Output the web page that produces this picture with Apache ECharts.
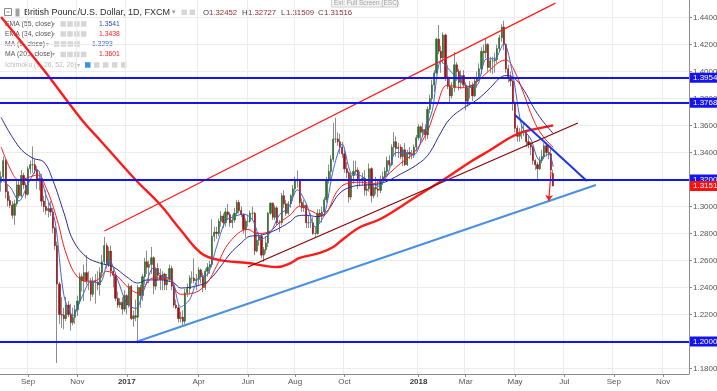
<!DOCTYPE html>
<html><head><meta charset="utf-8">
<script src="https://cdn.jsdelivr.net/npm/echarts@6/dist/echarts.min.js"></script>
<style>html,body{margin:0;padding:0;background:#fff;overflow:hidden}#c{width:717px;height:391px}</style>
</head><body><div id="c"></div>
<script>
const FONT = "'Liberation Sans', Arial, 'DejaVu Sans', sans-serif";
// time axis: trading days from start, grouped by two per category
const startDate = '2016-07-28';
const categoryCount = 307;
const tickDates = ['2016-09-01','2016-11-01','2017-01-01','2017-04-01','2017-06-01','2017-08-01','2017-10-01','2018-01-01','2018-03-01','2018-05-01','2018-07-01','2018-09-01','2018-11-01'];
const tickLabels = ['Sep','Nov','2017','Apr','Jun','Aug','Oct','2018','Mar','May','Jul','Sep','Nov'];
const yTicks = [1.18,1.20,1.22,1.24,1.26,1.28,1.30,1.32,1.34,1.36,1.38,1.40,1.42,1.44];
const Y_MIN = 1.1759, Y_MAX = 1.4530;

// OHLC in 1/10000 units
const opens = [
13180,13220,13340,13110,13045,13010,12935,13020,13160,13080,
13230,13160,13090,13280,13310,13310,13270,13200,13210,13040,
13000,12970,12985,12960,12840,12710,12425,12200,12195,12170,
12270,12200,12140,12180,12235,12300,12480,12450,12510,12450,
12450,12350,12450,12440,12420,12510,12590,12710,12570,12670,
12520,12490,12320,12270,12290,12240,12340,12270,12410,12170,
12190,12180,12400,12340,12480,12590,12550,12570,12620,12410,
12540,12490,12460,12500,12420,12460,12540,12410,12270,12250,
12170,12180,12150,12360,12390,12470,12470,12450,12460,12530,
12480,12400,12520,12550,12570,12780,12810,12800,12890,12930,
12880,12960,12940,12880,12900,12950,13030,12970,12940,12830,
12890,12890,12950,12950,12670,12750,12780,12640,12680,12730,
12950,13025,12920,12990,12880,12880,13080,13020,12950,13020,
13080,13130,13200,13190,13030,12990,13010,12880,12880,12880,
12800,12800,12950,12930,12960,13050,13200,13260,13350,13500,
13500,13480,13440,13390,13280,13250,13070,13230,13260,13270,
13200,13190,13210,13120,13130,13280,13080,13140,13130,13120,
13200,13220,13260,13340,13310,13440,13480,13430,13440,13370,
13420,13310,13400,13390,13380,13440,13510,13590,13550,13570,
13530,13720,13800,13900,13990,14240,14150,14100,14270,13960,
13890,13820,13880,14050,14000,13920,13970,13900,13780,13880,
13900,13820,13930,13950,14020,14150,14140,14200,14030,14080,
14080,14090,14170,14250,14330,14200,14020,13960,13930,13770,
13580,13520,13550,13560,13560,13480,13460,13440,13340,13310,
13280,13340,13370,13450,13400,13390,13245];
const highs = [
13260,13371,13350,13160,13080,13040,13050,13190,13200,13270,
13250,13180,13300,13340,13445,13350,13300,13260,13240,13080,
13120,13030,13040,12990,12850,12740,12440,12330,12250,12330,
12300,12280,12250,12270,12340,12510,12500,12570,12640,12520,
12470,12480,12500,12520,12550,12640,12775,12730,12700,12710,
12550,12510,12370,12320,12330,12380,12350,12430,12420,12230,
12310,12420,12420,12500,12620,12673,12600,12700,12630,12550,
12580,12540,12520,12510,12500,12570,12560,12420,12310,12280,
12220,12230,12390,12430,12490,12520,12615,12500,12550,12540,
12510,12540,12580,12600,12905,12850,12850,12910,12965,12950,
12990,13020,12960,12940,12990,13047,13050,13000,12950,12910,
12940,12970,13000,12960,12810,12810,12800,12700,12780,12960,
13030,13030,13010,13000,12900,13100,13120,13050,13040,13090,
13160,13220,13267,13200,13060,13050,13020,12930,12950,12920,
12850,12980,12980,13000,13070,13220,13310,13380,13620,13657,
13550,13540,13480,13420,13330,13260,13250,13340,13340,13290,
13260,13250,13270,13170,13320,13290,13170,13220,13200,13230,
13260,13290,13370,13380,13460,13550,13520,13470,13460,13440,
13470,13420,13440,13420,13460,13530,13610,13600,13620,13610,
13740,13830,13940,14010,14250,14345,14190,14290,14280,14050,
13950,13920,14145,14070,14020,14010,14010,13920,13890,13930,
13920,13950,14000,14060,14180,14200,14245,14210,14110,14110,
14140,14200,14270,14350,14376,14210,14050,14000,13960,13780,
13600,13580,13600,13620,13570,13530,13480,13450,13350,13330,
13370,13420,13470,13460,13450,13430,13273];
const lows = [
13110,13200,13060,13000,12990,12910,12865,13000,13060,13070,
13130,13060,13080,13240,13250,13240,13130,13120,13000,12960,
12940,12920,12930,12800,12680,11841,12130,12100,12090,12150,
12180,12080,12120,12130,12190,12280,12370,12300,12420,12380,
12300,12330,12280,12380,12340,12470,12570,12540,12550,12480,
12400,12300,12250,12250,12200,12220,12200,12250,12160,12110,
12150,11986,12250,12300,12420,12500,12430,12500,12350,12380,
12450,12380,12380,12380,12380,12440,12380,12250,12240,12140,
12140,12109,12130,12330,12350,12430,12430,12380,12420,12430,
12365,12380,12480,12500,12550,12740,12760,12780,12850,12840,
12850,12900,12850,12840,12880,12930,12950,12920,12800,12770,
12850,12880,12900,12640,12660,12710,12620,12590,12650,12700,
12940,12900,12900,12860,12810,12860,12990,12930,12940,12990,
13040,13110,13140,13000,12960,12960,12840,12840,12840,12790,
12775,12790,12880,12880,12930,13030,13170,13200,13330,13470,
13450,13390,13360,13250,13210,13030,13050,13170,13240,13130,
13150,13160,13080,13080,13110,13030,13060,13090,13070,13100,
13160,13200,13230,13290,13300,13380,13370,13360,13350,13300,
13300,13300,13350,13350,13360,13410,13490,13480,13520,13490,
13500,13690,13770,13850,13980,14130,13990,14060,13930,13870,
13765,13800,13850,13930,13860,13870,13880,13712,13740,13800,
13780,13810,13880,13930,13980,14050,14100,14000,13990,13980,
13990,14060,14150,14220,14160,13990,13920,13890,13710,13550,
13480,13480,13500,13520,13440,13430,13380,13310,13270,13204,
13270,13320,13350,13370,13350,13250,13151];
const closes = [
13220,13340,13110,13045,13010,12935,13020,13160,13080,13230,
13160,13090,13280,13310,13310,13270,13200,13210,13040,13000,
12970,12985,12960,12840,12710,12425,12200,12195,12170,12270,
12200,12140,12180,12235,12300,12480,12450,12510,12450,12450,
12350,12450,12440,12420,12510,12590,12710,12570,12670,12520,
12490,12320,12270,12290,12240,12340,12270,12410,12170,12190,
12180,12400,12340,12480,12590,12550,12570,12620,12410,12540,
12490,12460,12500,12420,12460,12540,12410,12270,12250,12170,
12180,12150,12360,12390,12470,12470,12450,12460,12530,12480,
12400,12520,12550,12570,12780,12810,12800,12890,12930,12880,
12960,12940,12880,12900,12950,13030,12970,12940,12830,12890,
12890,12950,12950,12670,12750,12780,12640,12680,12730,12950,
13025,12920,12990,12880,12880,13080,13020,12950,13020,13080,
13130,13200,13190,13030,12990,13010,12880,12880,12880,12800,
12800,12950,12930,12960,13050,13200,13260,13350,13500,13500,
13480,13440,13390,13280,13250,13070,13230,13260,13270,13200,
13190,13210,13120,13130,13280,13080,13140,13130,13120,13200,
13220,13260,13340,13310,13440,13480,13430,13440,13370,13420,
13310,13400,13390,13380,13440,13510,13590,13550,13570,13530,
13720,13800,13900,13990,14240,14150,14100,14270,13960,13890,
13820,13880,14050,14000,13920,13970,13900,13780,13880,13900,
13820,13930,13950,14020,14150,14140,14200,14030,14080,14080,
14090,14170,14250,14330,14200,14020,13960,13930,13770,13580,
13520,13550,13560,13560,13480,13460,13440,13340,13310,13280,
13340,13370,13450,13400,13390,13270,13152];

// indicator lines (category index, value in 1/10000)
const ma200K = [0,19,36,44,60,71,80,89,97,110,118,123,129,133,142,148,153,160,169,184,199,209,218,225,231,240,246];
const ma200V = [14404,14011,13641,13493,13196,13011,12826,12656,12604,12581,12559,12552,12581,12619,12656,12700,12767,12848,12907,13063,13219,13330,13419,13493,13544,13581,13601];
const ema55K = [0,8,14,19,23,28,32,38,44,50,56,61,65,71,77,80,89,93,98,102,107,111,115,120,124,129,132,136,141,145,151,157,163,169,178,187,191,196,200,206,212,218,222,225,228,233,237,241,246];
const ema55V = [13660,13441,13359,13330,13196,12952,12752,12626,12581,12552,12478,12433,12456,12456,12433,12396,12420,12460,12560,12650,12730,12780,12785,12810,12840,12890,12930,12935,12925,12960,13100,13150,13160,13170,13240,13330,13400,13550,13650,13730,13790,13880,13950,13970,13960,13860,13740,13640,13541];
const ema34K = [0,5,8,13,16,20,25,29,34,40,44,47,52,56,61,63,68,74,80,86,92,96,102,110,114,119,124,129,133,139,143,150,154,160,166,169,178,184,190,194,199,205,210,217,222,225,228,233,237,241,246];
const ema34V = [13441,13248,13196,13220,13233,13140,12900,12650,12480,12440,12470,12520,12480,12410,12360,12390,12470,12470,12350,12360,12440,12560,12740,12830,12800,12810,12880,12940,13000,12960,12930,13120,13170,13180,13170,13190,13320,13400,13560,13740,13900,13880,13900,14000,14070,14085,14030,13830,13650,13530,13438];
const maFastK = [0,4,8,12,16,20,24,28,32,36,40,44,48,52,56,60,64,68,72,76,80,84,88,92,96,100,104,108,112,116,120,124,128,132,136,140,144,148,152,156,160,164,168,172,176,180,184,188,192,196,200,204,208,212,216,220,224,228,232,236,240,244,246];
const maFastV = [13200,13145,13041,13168,13274,13084,12893,12340,12192,12329,12442,12434,12610,12454,12282,12244,12398,12548,12480,12466,12256,12310,12476,12496,12702,12892,12926,12944,12902,12758,12805,12939,12990,13124,13020,12848,12938,13272,13462,13244,13230,13186,13150,13228,13400,13394,13384,13532,13704,14076,14008,13934,13890,13896,14092,14096,14208,13976,13596,13500,13342,13390,13293];

// drawings: [index, price]
const channelUpper = [[46,1.2819],[247,1.4507]];
const channelMid = [[110,1.2552],[257,1.3619]];
const supportLine = [[60,1.1996],[265,1.3159]];
const downTrend = [[229,1.3678],[261,1.3189]];
const arrowLine = [[245,1.3256],[244,1.3041]];
const levelValues = [1.3954,1.3768,1.3200,1.2000];
const lastPrice = 1.31516;

// build categories
const weekdays = [];
(function(){ const d = new Date(startDate+'T00:00:00Z');
  while (weekdays.length < categoryCount*2) { const g = d.getUTCDay(); if (g!==0 && g!==6) weekdays.push(d.toISOString().slice(0,10)); d.setUTCDate(d.getUTCDate()+1); } })();
const cats = []; for (let c=0;c<categoryCount;c++) cats.push(weekdays[2*c]);
const tickCat = {};
tickDates.forEach((t,i)=>{ const idx = weekdays.findIndex(w=>w>=t); tickCat[Math.floor(idx/2)] = tickLabels[i]; });
const showTick = (i)=> tickCat[i] !== undefined;

const fullData = opens.map((o,i)=>[o/1e4, closes[i]/1e4, lows[i]/1e4, highs[i]/1e4]);
const bodyData = opens.map((o,i)=>{const c=closes[i]; return [o/1e4, c/1e4, Math.min(o,c)/1e4, Math.max(o,c)/1e4];});
const pts = (K,V)=>K.map((k,i)=>[k, V[i]/1e4]);

const lineS = (data,color,width,extra)=>Object.assign({type:'line', data, symbol:'none', silent:true, lineStyle:{color, width}, z:4}, extra||{});

const txt = (x,y,t,size,fill,extra)=>({type:'text', x, y, silent:true, style:Object.assign({text:t, fontSize:size, fill, fontFamily:FONT, verticalAlign:'middle', align:'left'}, extra||{})});
const box = (x,y,w,h,fill,stroke)=>({type:'rect', silent:true, shape:{x,y,width:w,height:h}, style:{fill, stroke:stroke||null, lineWidth:stroke?1:0}});
const icons = (x0,y,n,pitch,firstBlue)=>{const a=[]; for(let i=0;i<n;i++) a.push(box(x0+i*pitch,y,5.5,5.5, (firstBlue&&i===0)?'#3d8fe0':'#d6d6d6', null)); return a;};

const gfx = [
  box(4.5,8.5,7,7,'#fff','#8a8a8a'), box(6.5,11.5,3,1,'#8a8a8a'), box(15.5,8.5,4,8,'#a0a0a0'),
  txt(24,12.5,'British Pound/U.S. Dollar, 1D, FXCM',9,'#2b2b2b'),
  txt(172,12.5,'▾',7,'#999'),
  box(181.5,9.5,5.5,5.5,'#d6d6d6'), box(189.5,9.5,5.5,5.5,'#d6d6d6'),
  txt(203,12.5,'O',7.8,'#444'), txt(209,12.5,'1.32452',7.8,'#8a3030'),
  txt(242,12.5,'H',7.8,'#444'), txt(248,12.5,'1.32727',7.8,'#8a3030'),
  txt(281,12.5,'L',7.8,'#444'), txt(286,12.5,'1.31509',7.8,'#8a3030'),
  txt(318,12.5,'C',7.8,'#444'), txt(324,12.5,'1.31516',7.8,'#8a3030'),
  box(331.5,-3,66,10,'#f4f4f4','#d0d0d0'), txt(334,3,'Exit Full Screen (ESC)',6.5,'#a0a0a0'),
  txt(5,24,'EMA (55, close)',6.8,'#555'), txt(52,24,'▾',6,'#aaa'), ...icons(60.5,21.2,4,6.8), txt(99,24,'1.3541',6.8,'#3949ab'),
  txt(5,34,'EMA (34, close)',6.8,'#555'), txt(52,34,'▾',6,'#aaa'), ...icons(60.5,31.2,4,6.8), txt(99,34,'1.3438',6.8,'#ff1a1a'),
  txt(5,44,'MA (9, close)',6.8,'#555'), txt(46,44,'▾',6,'#aaa'), ...icons(54,41.2,4,6.8), txt(92,44,'1.3293',6.8,'#3f63d8'),
  txt(5,54.5,'MA (200, close)',6.8,'#555'), txt(52,54.5,'▾',6,'#aaa'), ...icons(60.5,51.7,4,6.8), txt(99,54.5,'1.3601',6.8,'#ff1a1a'),
  txt(5,65,'Ichimoku (9, 26, 52, 26)',6.8,'#bdbdbd'), txt(77,65,'▾',6,'#bbb'), ...icons(85,62.2,5,9,true)
];

const chart = echarts.init(document.getElementById('c'), null, {renderer:'canvas'});
chart.setOption({
  animation:false,
  backgroundColor:'#ffffff',
  grid:{left:0, right:28, top:0, bottom:17, containLabel:false, outerBoundsMode:'none'},
  xAxis:{type:'category', data:cats, boundaryGap:true,
    axisLine:{show:true, lineStyle:{color:'#8c8c8c', width:1}},
    axisTick:{show:true, alignWithLabel:true, length:3, interval:showTick, lineStyle:{color:'#8c8c8c'}},
    axisLabel:{interval:showTick, fontSize:8, color:'#555', margin:4, fontFamily:FONT,
      formatter:(v,i)=>{const l=tickCat[i]; if(l===undefined) return ''; return /^\d{4}$/.test(l)?'{yr|'+l+'}':l;},
      rich:{yr:{fontWeight:'bold', fontSize:8, color:'#3a3a3a', fontFamily:FONT}}},
    splitLine:{show:true, interval:showTick, lineStyle:{color:'#ececec', width:1}}},
  yAxis:{type:'value', position:'right', min:Y_MIN, max:Y_MAX, scale:true,
    axisLine:{show:true, lineStyle:{color:'#8c8c8c', width:1}},
    axisTick:{show:true, length:3, customValues:yTicks, lineStyle:{color:'#8c8c8c'}},
    axisLabel:{customValues:yTicks, formatter:(v)=>v.toFixed(5), fontSize:8, color:'#555', margin:4, fontFamily:FONT},
    splitLine:{show:false}},
  graphic:{elements:gfx},
  series:[
    {type:'line', data:[], silent:true, z:0,
      markLine:{silent:true, z:0, precision:5, symbol:['none','none'], label:{show:false}, animation:false,
        lineStyle:{color:'#ececec', width:1, type:'solid'}, data:yTicks.map(v=>({yAxis:v}))}},
    {type:'candlestick', data:fullData, barWidth:1, silent:true, z:2,
      itemStyle:{color:'#8c8c8c', color0:'#8c8c8c', borderColor:'#8c8c8c', borderColor0:'#8c8c8c', borderWidth:1}},
    {type:'candlestick', data:bodyData, barWidth:1.7, silent:true, z:3,
      itemStyle:{color:'#2e6e2e', color0:'#9e1010', borderColor:'#2e6e2e', borderColor0:'#9e1010', borderWidth:0.6}},
    lineS(pts(ma200K,ma200V),'#ff1a1a',2.4,{smooth:0.4}),
    lineS(pts(ema55K,ema55V),'#2a2a9c',1,{smooth:0.4}),
    lineS(pts(ema34K,ema34V),'#ff1a1a',1,{smooth:0.4}),
    lineS(pts(maFastK,maFastV),'#3f63d8',1,{smooth:0.3}),
    lineS(channelUpper,'#ff1a1a',1.2),
    lineS(channelMid,'#8b0000',1.2),
    lineS(supportLine,'#4a90e2',2),
    lineS(downTrend,'#1c35e6',2),
    {type:'line', data:[], silent:true, z:6,
      markLine:{silent:true, precision:5, symbol:['none','arrow'], symbolSize:6, label:{show:false}, animation:false,
        lineStyle:{color:'#ff1a1a', width:1.2, type:'solid'},
        data:[[{coord:arrowLine[0]},{coord:arrowLine[1]}]]}},
    {type:'line', data:[], silent:true, z:6,
      markLine:{silent:true, precision:5, symbol:['none','none'], animation:false,
        lineStyle:{color:'#1414f0', width:2, type:'solid'},
        label:{show:true, position:'end', distance:1, formatter:(p)=>Number(p.value).toFixed(5), backgroundColor:'#1414f0', color:'#fff', fontSize:8, padding:[1,3,1,3], fontFamily:FONT},
        data:levelValues.map(v=>({yAxis:v}))}},
    {type:'line', data:[], silent:true, z:7,
      markLine:{silent:true, precision:5, symbol:['none','none'], animation:false,
        lineStyle:{color:'rgba(255,255,255,0)', width:1, type:'solid'},
        label:{show:true, position:'end', distance:1, formatter:()=>lastPrice.toFixed(5), backgroundColor:'#ff1010', color:'#fff', fontSize:8, padding:[1,3,1,3], fontFamily:FONT},
        data:[{yAxis:lastPrice}]}}
  ]
});
</script></body></html>
